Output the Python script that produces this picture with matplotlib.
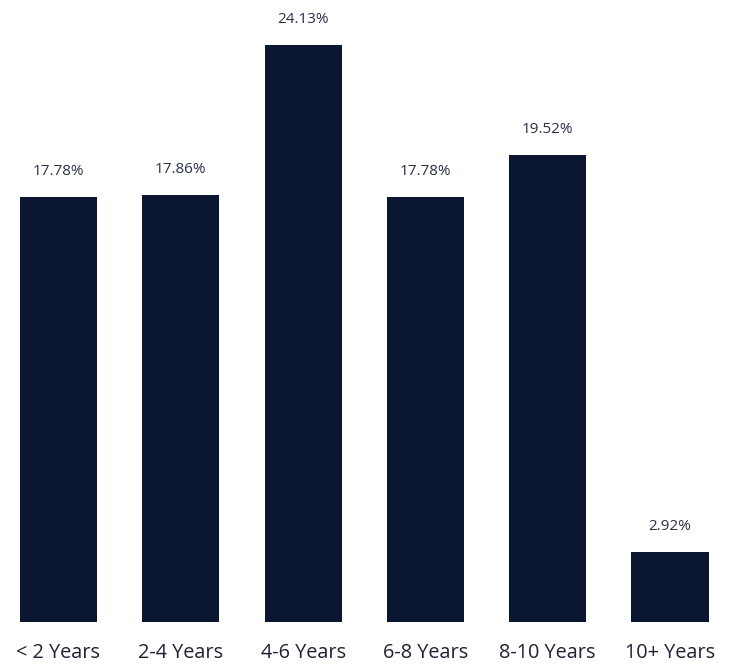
import matplotlib
matplotlib.use("Agg")
import matplotlib.pyplot as plt
import numpy as np

plt.rcParams['font.family'] = ['Open Sans', 'DejaVu Sans']

# tenure buckets and share of respondents (%)
categories = ['< 2 Years', '2-4 Years', '4-6 Years', '6-8 Years', '8-10 Years', '10+ Years']
shares = [17.78, 17.86, 24.13, 17.78, 19.52, 2.92]

bar_color = '#0b1631'
label_color = '#2a3145'
tick_color = '#1e2232'

fig = plt.figure(figsize=(7.32, 6.64), dpi=100)
ax = fig.add_axes([0, 42 / 664, 1, 622 / 664])

x = np.arange(len(categories))
bars = ax.bar(x, shares, width=0.63, color=bar_color)

for rect, v in zip(bars, shares):
    ax.annotate(f'{v:.2f}%', (rect.get_x() + rect.get_width() / 2, rect.get_height()),
                xytext=(0, 13), textcoords='offset points',
                ha='center', va='bottom', fontsize=11, color=label_color)

ax.set_xlim(-0.478, 5.507)
ax.set_ylim(0, 26.0)
ax.set_xticks(x)
ax.set_xticklabels(categories, fontsize=14.3, color=tick_color)
ax.tick_params(axis='x', length=0, pad=15)
ax.set_yticks([])
for s in ax.spines.values():
    s.set_visible(False)

fig.savefig('out.png', dpi=100)
